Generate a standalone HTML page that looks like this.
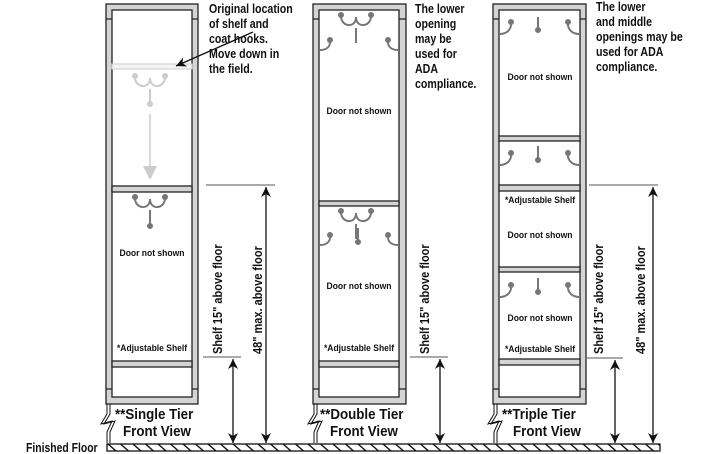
<!DOCTYPE html>
<html><head><style>body{margin:0;background:#fff}svg{display:block}text{font-family:"Liberation Sans",sans-serif;font-weight:bold;fill:#111}
.c{transform:scaleX(.85);transform-box:fill-box;transform-origin:left center}
.f{transform:scaleX(.8);transform-box:fill-box;transform-origin:left center}
.m{transform:scaleX(.9);transform-box:fill-box;transform-origin:center}
.b{transform:scaleX(.92);transform-box:fill-box;transform-origin:left center}
</style></head><body>
<svg width="721" height="454" viewBox="0 0 721 454" xmlns="http://www.w3.org/2000/svg">
<defs>
<g id="dh" fill="none" stroke-width="2">
  <path d="M-15,0 C-16,12 0,14 0,2 C0,14 16,12 15,0"/>
  <line x1="0" y1="13" x2="0" y2="28"/>
</g>
<pattern id="hatch" x="107" y="444" width="12.5" height="7" patternUnits="userSpaceOnUse"><path d="M1,0 L9,7" stroke="#111" stroke-width="1.4"/></pattern>
<marker id="ar" markerWidth="12" markerHeight="12" refX="10" refY="5" orient="auto-start-reverse" markerUnits="userSpaceOnUse"><path d="M0,0 L10,5 L0,10 L3,5 Z" fill="#111"/></marker>
</defs>

<g stroke="#222" stroke-width="1.3">
 <rect x="106" y="4" width="92" height="400" fill="#d4d4d4"/>
 <rect x="112" y="10" width="80" height="387" fill="#fff"/>
 <rect x="313" y="4" width="93" height="400" fill="#d4d4d4"/>
 <rect x="319" y="10" width="80" height="387" fill="#fff"/>
 <rect x="493" y="4" width="93" height="400" fill="#d4d4d4"/>
 <rect x="499" y="10" width="81" height="387" fill="#fff"/>
 <path d="M106,19H112M192,19H198M106,389H112M192,389H198"/>
 <path d="M313,19H319M399,19H406M313,389H319M399,389H406"/>
 <path d="M493,19H499M580,19H586M493,389H499M580,389H586"/>
 <rect x="112" y="186" width="80" height="6" fill="#d4d4d4"/>
 <rect x="112" y="361" width="80" height="6" fill="#d4d4d4"/>
 <rect x="319" y="201" width="80" height="5" fill="#d4d4d4"/>
 <rect x="319" y="361" width="80" height="6" fill="#d4d4d4"/>
 <rect x="499" y="136" width="81" height="5" fill="#d4d4d4"/>
 <rect x="499" y="185" width="81" height="6" fill="#d4d4d4"/>
 <rect x="499" y="267" width="81" height="5" fill="#d4d4d4"/>
 <rect x="499" y="359" width="81" height="6" fill="#d4d4d4"/>
</g>
<rect x="112" y="64" width="80" height="5" fill="#f4f4f4" stroke="#ccc"/>
<g stroke="#ccc" fill="#ccc"><use href="#dh" x="150" y="76" stroke="#ccc"/><circle cx="135" cy="76" r="2.5"/><circle cx="165" cy="76" r="2.5"/><circle cx="150" cy="104" r="2.5"/>
<line x1="150" y1="114" x2="150" y2="168" stroke-width="1.5"/><path d="M143,166 L150,180 L157,166 Z" stroke="none"/></g>

<g stroke="#777" fill="#777">
 <use href="#dh" x="150" y="197"/><circle cx="135" cy="197" r="2.5"/><circle cx="165" cy="197" r="2.5"/><circle cx="150" cy="226" r="2.5"/>
 <use href="#dh" x="356" y="15"/><circle cx="341" cy="15" r="2.5"/><circle cx="371" cy="15" r="2.5"/>
 <use href="#dh" x="356" y="211"/><circle cx="341" cy="211" r="2.5"/><circle cx="371" cy="211" r="2.5"/>
 <g fill="none" stroke-width="2">
  <path d="M330,40 C331,48 325,50 320,50"/><path d="M388,40 C387,48 393,50 398,50"/>
  <path d="M330,235 C331,243 325,245 320,245"/><path d="M388,235 C387,243 393,245 398,245"/>
  <line x1="358" y1="228" x2="358" y2="241"/>
  <path d="M511,22 C512,30 506,34 500,34"/><path d="M568,22 C567,30 573,34 579,34"/><line x1="538" y1="17" x2="538" y2="29"/>
  <path d="M511,153 C512,161 506,165 500,165"/><path d="M568,153 C567,161 573,165 579,165"/><line x1="538" y1="146" x2="538" y2="159"/>
  <path d="M511,285 C512,293 506,297 500,297"/><path d="M568,285 C567,293 573,297 579,297"/><line x1="538" y1="278" x2="538" y2="291"/>
 </g>
 <circle cx="358" cy="242" r="2.5"/><circle cx="330" cy="40" r="2.5"/><circle cx="388" cy="40" r="2.5"/><circle cx="330" cy="235" r="2.5"/><circle cx="388" cy="235" r="2.5"/>
 <circle cx="511" cy="22" r="2.5"/><circle cx="568" cy="22" r="2.5"/><circle cx="538" cy="30" r="2.5"/>
 <circle cx="511" cy="153" r="2.5"/><circle cx="568" cy="153" r="2.5"/><circle cx="538" cy="160" r="2.5"/>
 <circle cx="511" cy="285" r="2.5"/><circle cx="568" cy="285" r="2.5"/><circle cx="538" cy="292" r="2.5"/>
</g>

<g font-size="9.5" text-anchor="middle">
 <text class="m" x="152" y="256">Door not shown</text>
 <text class="m" x="152" y="351">*Adjustable Shelf</text>
 <text class="m" x="359" y="114">Door not shown</text>
 <text class="m" x="359" y="289">Door not shown</text>
 <text class="m" x="359" y="351">*Adjustable Shelf</text>
 <text class="m" x="540" y="80">Door not shown</text>
 <text class="m" x="540" y="203">*Adjustable Shelf</text>
 <text class="m" x="540" y="238">Door not shown</text>
 <text class="m" x="540" y="321">Door not shown</text>
 <text class="m" x="540" y="352">*Adjustable Shelf</text>
</g>

<g font-size="12.5">
 <text class="c" x="209" y="13">Original location</text><text class="c" x="209" y="28">of shelf and</text><text class="c" x="209" y="43">coat hooks.</text><text class="c" x="209" y="58">Move down in</text><text class="c" x="209" y="73">the field.</text>
 <text class="c" x="415" y="13">The lower</text><text class="c" x="415" y="28">opening</text><text class="c" x="415" y="43">may be</text><text class="c" x="415" y="58">used for</text><text class="c" x="415" y="73">ADA</text><text class="c" x="415" y="88">compliance.</text>
 <text class="c" x="596" y="11">The lower</text><text class="c" x="596" y="26">and middle</text><text class="c" x="596" y="41">openings may be</text><text class="c" x="596" y="56">used for ADA</text><text class="c" x="596" y="71">compliance.</text>
</g>
<line x1="253" y1="32" x2="176" y2="66" stroke="#111" stroke-width="1.3" marker-end="url(#ar)"/>

<g stroke="#111" stroke-width="1.3">
 <line x1="206" y1="185" x2="275" y2="185" stroke="#777"/>
 <line x1="203" y1="357" x2="241" y2="357" stroke="#777"/>
 <line x1="266" y1="187" x2="266" y2="443" marker-start="url(#ar)" marker-end="url(#ar)"/>
 <line x1="233" y1="359" x2="233" y2="443" marker-start="url(#ar)" marker-end="url(#ar)"/>
 <line x1="410" y1="357" x2="448" y2="357" stroke="#777"/>
 <line x1="440" y1="359" x2="440" y2="443" marker-start="url(#ar)" marker-end="url(#ar)"/>
 <line x1="589" y1="185" x2="658" y2="185" stroke="#777"/>
 <line x1="586" y1="358" x2="623" y2="358" stroke="#777"/>
 <line x1="653" y1="187" x2="653" y2="443" marker-start="url(#ar)" marker-end="url(#ar)"/>
 <line x1="615" y1="360" x2="615" y2="443" marker-start="url(#ar)" marker-end="url(#ar)"/>
</g>
<g font-size="12.5">
 <text transform="translate(222,354) rotate(-90) scale(0.88,1)">Shelf 15" above floor</text>
 <text transform="translate(262,354) rotate(-90) scale(0.88,1)">48" max. above floor</text>
 <text transform="translate(429,354) rotate(-90) scale(0.88,1)">Shelf 15" above floor</text>
 <text transform="translate(603,354) rotate(-90) scale(0.88,1)">Shelf 15" above floor</text>
 <text transform="translate(645,354) rotate(-90) scale(0.88,1)">48" max. above floor</text>
</g>

<g stroke="#111" stroke-width="1" fill="none">
 <path d="M107,404V414L101,424L112,421L107,432V443M110,404V414L104,424L115,421L110,432V443"/>
 <path d="M314,404V414L308,424L319,421L314,432V443M317,404V414L311,424L322,421L317,432V443"/>
 <path d="M494,404V414L488,424L499,421L494,432V443M497,404V414L491,424L502,421L497,432V443"/>
</g>
<g font-size="14.5">
 <text class="b" x="115" y="419">**Single Tier</text><text class="b" x="123" y="436">Front View</text>
 <text class="b" x="320" y="419">**Double Tier</text><text class="b" x="330" y="436">Front View</text>
 <text class="b" x="502" y="419">**Triple Tier</text><text class="b" x="513" y="436">Front View</text>
</g>

<rect x="107" y="444" width="553" height="7" fill="url(#hatch)" stroke="#111" stroke-width="1.3"/>
<text class="f" x="26" y="452" font-size="13">Finished Floor</text>
</svg>
</body></html>
